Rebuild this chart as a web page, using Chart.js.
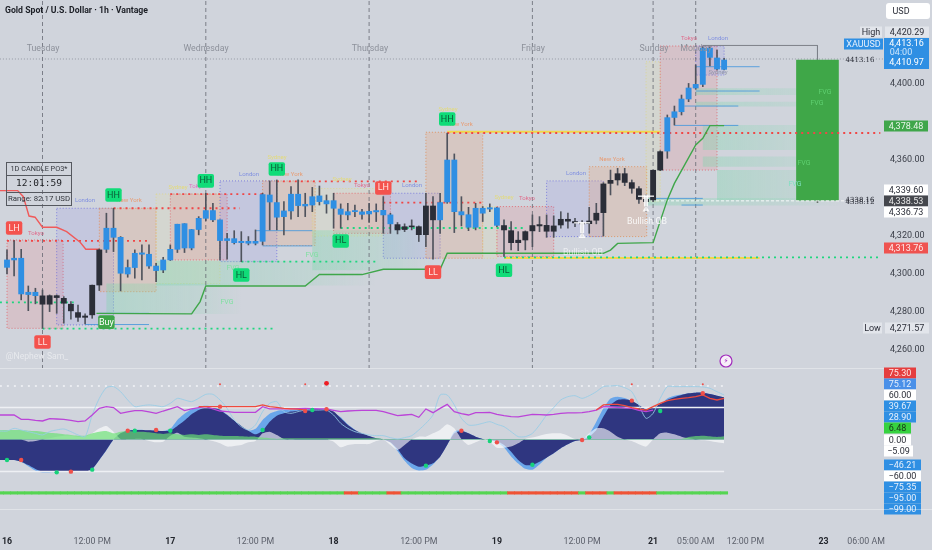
<!DOCTYPE html>
<html>
<head>
<meta charset="utf-8">
<title>Gold Spot / U.S. Dollar</title>
<style>
  html, body { margin: 0; padding: 0; background: #d0d4dc; overflow: hidden; }
  canvas { display: block; }
</style>
<script src="https://cdn.jsdelivr.net/npm/chart.js@4/dist/chart.umd.js"></script>
</head>
<body>
<canvas id="chart" width="932" height="550"></canvas>
<script>
// candles, one entry per hourly bar
const bodyTops = [4307.4,4308.3,4308.3,4290.4,4290.4,4288.5,4288.6,4288.6,4287.2,4284.1,
  4279.7,4277.9,4294.1,4312.7,4324.1,4324.1,4319.3,4303.4,4310.9,4311.1,
  4310.4,4304.2,4307.4,4313.0,4326.2,4326.5,4323.4,4329.3,4333.4,4333.4,
  4328.5,4318.6,4318.6,4317.2,4317.2,4317.2,4341.8,4341.6,4337.6,4333.2,
  4342.0,4342.0,4336.7,4340.7,4341.1,4338.6,4338.6,4334.2,4332.8,4333.4,
  4332.7,4333.0,4333.4,4333.5,4331.1,4326.0,4324.9,4325.3,4324.9,4335.8,
  4335.8,4337.6,4360.0,4360.0,4332.8,4331.2,4334.6,4334.6,4334.9,4334.8,
  4325.5,4322.8,4317.8,4322.3,4325.5,4326.0,4325.6,4325.3,4328.8,4328.8,
  4327.6,4326.9,4327.9,4332.0,4347.4,4349.3,4352.8,4352.8,4348.1,4344.9,
  4339.3,4354.6,4364.4,4382.3,4385.4,4392.1,4397.9,4399.8,4418.9,4418.9,
  4413.7,4412.6];
const bodyBottoms = [4303.5,4307.4,4289.5,4289.2,4288.6,4284.1,4284.1,4287.6,4284.6,4280.6,
  4277.2,4277.2,4278.5,4294.2,4313.0,4319.3,4300.4,4300.0,4303.4,4310.4,
  4304.2,4301.8,4302.1,4307.4,4313.0,4313.7,4313.7,4323.4,4329.3,4328.5,
  4317.6,4317.6,4316.5,4316.5,4316.2,4316.2,4317.2,4337.9,4329.9,4330.2,
  4333.2,4336.0,4335.8,4336.3,4338.1,4336.9,4334.6,4331.4,4331.1,4332.8,
  4331.4,4331.6,4332.7,4331.1,4326.4,4323.2,4323.4,4324.8,4320.7,4320.7,
  4328.5,4328.5,4337.9,4332.8,4331.1,4324.6,4324.6,4332.0,4334.2,4325.6,
  4323.2,4316.5,4316.5,4317.9,4322.7,4325.3,4322.5,4322.5,4325.8,4327.8,
  4326.9,4326.4,4326.5,4328.3,4332.3,4347.7,4349.5,4348.2,4345.1,4339.3,
  4338.1,4339.0,4354.7,4364.7,4382.4,4385.4,4392.1,4397.9,4399.8,4414.0,
  4407.9,4407.7];
const highs = [4312.7,4317.6,4313.0,4293.7,4292.5,4291.6,4289.0,4289.0,4288.1,4285.5,
  4283.7,4279.0,4294.2,4313.2,4332.0,4334.6,4319.7,4307.4,4312.7,4315.3,
  4315.3,4305.6,4308.8,4315.3,4326.2,4326.5,4323.5,4330.2,4342.5,4337.2,
  4328.5,4321.4,4322.8,4322.3,4319.7,4323.2,4342.5,4349.0,4349.5,4338.1,
  4346.0,4349.5,4342.5,4345.6,4346.3,4341.6,4342.5,4336.9,4337.2,4336.3,
  4334.1,4337.2,4336.9,4340.7,4332.0,4327.1,4326.4,4328.5,4325.3,4342.5,
  4340.7,4342.5,4374.1,4363.2,4340.7,4335.1,4337.2,4335.5,4336.9,4335.1,
  4328.5,4327.6,4322.3,4322.7,4331.1,4330.2,4331.1,4330.6,4332.8,4332.0,
  4329.3,4328.1,4335.1,4337.2,4348.1,4354.7,4355.6,4355.6,4349.5,4346.0,
  4341.6,4354.7,4364.9,4383.7,4388.4,4394.2,4400.3,4410.0,4419.6,4419.6,
  4417.9,4413.5];
const lows = [4300.0,4299.0,4286.4,4280.7,4284.3,4271.4,4280.2,4279.3,4274.1,4276.2,
  4275.0,4273.7,4276.7,4291.3,4311.3,4311.8,4291.1,4298.3,4297.8,4296.9,
  4303.0,4296.0,4300.7,4307.1,4311.3,4311.3,4312.7,4320.6,4328.1,4327.6,
  4307.4,4307.8,4315.8,4306.5,4315.3,4315.3,4315.3,4323.2,4323.2,4320.6,
  4328.8,4330.2,4330.2,4332.8,4336.3,4332.0,4324.1,4324.1,4328.5,4330.2,
  4328.8,4327.1,4327.6,4321.4,4321.4,4321.1,4322.3,4323.2,4317.1,4314.4,
  4307.8,4321.4,4337.2,4321.8,4325.3,4322.8,4323.2,4327.6,4332.8,4324.9,
  4309.2,4312.7,4312.3,4312.7,4314.4,4322.3,4319.3,4319.3,4324.1,4324.1,
  4324.9,4319.7,4321.4,4326.4,4320.0,4341.6,4346.8,4346.5,4342.5,4337.2,
  4332.8,4338.1,4354.4,4360.9,4378.4,4383.7,4390.7,4397.2,4398.6,4409.5,
  4407.4,4407.4];
const darkBars = [5,6,7,8,9,10,11,12,13,55,56,57,58,59,60,70,71,72,73,74,75,76,77,78,79,80,
  81,82,83,84,85,86,87,88,89,90,91,92];

// trailing stop lines
const redStopBars = [-1,1.5,2.3,3.1,3.95,5,7,8.4,10.3,11.1,13];
const redStopPrices = [4343.9,4343.9,4340.7,4330.5,4329.9,4324.6,4324.6,4322.3,4316.7,4313,4313];
const greenStopBars = [12.6,26,27.2,28,42,44,50,53,61,62,84,85,86,91,93,94,97,98,99,101];
const greenStopPrices = [4279.3,4279,4285.5,4293.7,4293.7,4299.7,4299.7,4302.5,4302.5,4310.9,
  4310.9,4312.6,4316.1,4316.5,4339,4347.7,4367.9,4371.4,4378.1,4378.1];

// dotted structure levels
const redLevelStarts = [0,15,23,38,53,62];
const redLevelEnds = [20,32.8,36,58,67,123];
const redLevelPrices = [4317.4,4334.6,4342,4348.7,4337.6,4374.2];
const greenLevelStarts = [-1,5,33,47,70];
const greenLevelEnds = [9.4,37.7,52,73,123];
const greenLevelPrices = [4285.1,4271.3,4306.5,4324.2,4308.8];
const yellowLevelStarts = [62,70];
const yellowLevelEnds = [92,106];
const yellowLevelPrices = [4374.9,4308.4];

// short blue order block lines
const blueLineStarts = [13,11,35,36,97,97,95.4,94,90.5,95];
const blueLineEnds = [20,20,43,43,106,106,103,103,98,98];
const blueLinePrices = [4279.3,4273.4,4322.8,4314.8,4409.1,4396.3,4388.4,4378.2,4339.8,4336.3];

// sessions: S sydney, T tokyo, L london, N new york
const sessionKinds = ['T','L','N','S','T','L','N','S','T','L','N','S','T','L','N','S','T','L'];
const sessionStarts = [0,7,13,21,23,30,36,43,46,53,59,67,69,76,82,90,92,97];
const sessionEnds = [7.9,15,21,30,31,38,43.4,53,54,61,67,69,77,84,90.1,92,100,101];
const sessionTops = [4317.9,4334.6,4334.6,4342.1,4342.1,4349,4349,4345,4342.5,4342.5,4374.6,4335.5,
  4335.5,4349,4356.5,4411.7,4420,4420];
const sessionBottoms = [4271.4,4273.2,4290.7,4295,4307.4,4306.5,4315,4320,4321.4,4308.3,4308.3,
  4308.3,4309.2,4319.7,4319.7,4338,4354.7,4404.7];

// fair value gaps, fading to the right
const zoneStarts = [14,21,43,97,97,98,98,100,90];
const zoneEnds = [33,52,60,116,116,116,116,116,118];
const zoneTops = [4295,4307,4323,4397.7,4390.7,4378.4,4361.8,4354.7,4340];
const zoneBottoms = [4279,4294,4302,4394.2,4388.1,4365.3,4356.5,4339,4336];

// projected daily candle on the right
const dailyBar = 114.15;
const dailyOpen = 4338.9;
const dailyClose = 4412.6;
const dailyHigh = 4420.29;
const dailyLow = 4337.6;
const highLineStart = 98;

const dayBreaks = [5,28,51,74,91,97];
const lastPrice = 4413.16;
const whiteLevelPrice = 4338.5;

// structure tags on the candles
const tagTexts = ['LH','LL','Buy','HH','HH','HH','HL','HL','LH','HH','LL','HL'];
const tagBars = [1,5,14,15,28,38,33,47,53,62,60,70];
const tagPrices = [4324.2,4264.2,4274.7,4341.6,4349,4355.3,4299.5,4317.4,4345.3,4381.6,4301,4302];

const priceTicks = [4400,4360,4320,4300,4280,4260];

// lower oscillator pane
const navyValues = [-23,-23,-24.9,-28.7,-33.1,-36.1,-36.1,-36.1,-36.1,-36.1,
  -36.1,-36.1,-33.1,-23,-11.8,0,6.9,9.9,10.7,10.7,
  10.3,9.9,9.5,9.9,15.2,21.2,28.3,33.1,35.8,35.8,
  33.1,27.5,21.2,15.2,9.9,5.8,9.9,20,26.8,29.4,
  31.3,32.4,33.1,34.3,34.3,33.9,31.3,23.8,16.3,10.7,
  6.9,3.9,1.3,0,-3.2,-10.7,-21.2,-27,-30.5,-29.4,
  -26.8,-19.3,-6.2,6.9,9.5,6.9,3.2,0.6,-0.9,-1.7,
  -6.2,-13.7,-23,-28.7,-28.7,-24.9,-20.4,-15.5,-9.9,-5.4,
  -1.7,-0.6,3.2,10.7,25.7,38.8,44.4,45.1,43.6,38.8,
  33.9,35.8,39.9,44.4,47.4,50,51.9,52.6,52.6,51.1,
  49.2,47.4];
const fastValues = [-23,-23,-25,-30,-35,-37,-37,-36.5,-36.1,-36.1,
  -36.1,-36.1,-33,-23,-12,0,7,10,11,11,
  10,10,9.5,12,22,29,34,37,38,37,
  34,28,21,15,10,12,22,29,32,33,
  33,34,34.5,35,34.5,34,30,25,17,11,
  6,4,1.3,0,-3.5,-13,-24,-32,-35,-34,
  -28,-19,-6,9,10,7,3,0.6,-0.9,-3,
  -9,-19,-27,-33,-34,-28,-20.4,-15.5,-9.9,-5.4,
  -1.7,0.5,6,20,35,46,48,46.5,43,38.8,
  33,28,38,46,49,50.5,52,52.6,52.6,51.1,
  49.2,47.4];
const whiteValues = [0,0,0,-2.4,-1.7,0,1.3,3.2,4.3,4.3,
  3.2,3.2,6.9,12.5,15.2,8.8,0.6,0.6,0.6,0.6,
  -1.7,-3.2,-2.4,4.3,7.7,3.2,2.1,1.3,0,-1.7,
  -4.3,-8,-7.3,-6.2,-3.2,-1.7,6.9,8.8,5.1,0.6,
  -0.2,0,0,0,0,0,-2.4,-8.8,-6.2,-5.1,
  -5.1,-5.1,-1.7,0,-6.2,-11.8,-6.2,0,3.2,3.2,
  6.9,10.7,17,12.5,0.6,-6.2,-3.2,0,-2.4,-9.2,
  -9.2,-8,-4.3,0.6,2.1,4.3,6.2,6.9,6.9,4.3,
  0.6,0,6.9,12.5,12.5,8.8,3.2,0,-1.7,-5.4,
  -8,0,6.9,7.7,5.8,3.2,1.3,0,-0.9,-1.7,
  -3.2,-4.3];
const greenValues = [10.7,10.7,10.7,9.9,9.5,8.8,7.7,6.9,5.8,5.1,
  4.3,4.3,6.9,8.8,9.5,6.9,8.8,9.5,8.8,8.8,
  8,6.9,6.2,6.9,5.8,5.1,5.8,5.1,5.8,5.1,
  4.3,3.9,3.9,3.6,3.2,3.2,2.1,1.3,0.6,1.3,
  1.3,1.3,1.3,1.3,1.3,1.3,1.3,1.3,1.3,1.3,
  1.3,1.3,1.3,0.6,0.6,0.6,0.6,0.6,0.6,0.6,
  0.6,0.6,0.6,0.6,0.6,0.6,0.6,0.6,0.6,0.6,
  0.6,0.6,0.6,0.6,0.6,0.6,0.6,0.6,0.6,0.6,
  0.6,0.6,0.6,0.6,0.6,0.6,0.6,0.6,0.6,0.6,
  0.6,0.6,0.6,0.6,0.6,0.6,2.8,3.9,4.3,3.6,
  2.8,3.6];
const cyanValues = [9.5,12.5,10.7,8.8,6.9,5.1,8.8,10.7,11.8,8.8,
  5.1,3.2,27.5,46.2,58.2,59.4,53.7,44.4,36.9,38,
  38.8,38,36.9,40.6,46.2,44.4,42.5,46.2,50.7,50.7,
  44.4,35,21.9,14.4,10.7,16.3,31.3,40.6,42.5,31.3,
  29.4,31.3,33.1,33.1,33.1,33.1,27.5,18.2,12.5,8.8,
  6.9,5.1,4.3,4.3,2.1,0.6,2.1,4.3,10.7,18.2,
  27.5,50,50,38.8,23.8,16.3,16.3,18.2,20,17,
  14.4,8.8,3.2,3.2,6.9,16.3,27.5,35.8,44.4,48.1,
  49.2,46.2,49.2,53.7,59.4,60.1,60.5,58.2,53.7,38.8,
  23.8,29.4,46.2,59.4,59.4,59.4,59.4,59.4,59,57.5,
  53.7,50];
const purpleValues = [27.5,27.5,22.7,22.7,21.5,20.8,23.4,23,22.7,21.5,
  20,20.8,27.5,35,36.9,35.8,29.4,30.9,32.4,32.4,
  30.9,29.4,32,34.3,36.9,32.4,34.3,35.8,36.9,34.3,
  32,31.3,30.5,30.5,30.5,30.5,36.9,34.3,34.3,34.3,
  34.3,34.6,35,34.6,34.3,34.3,32.8,31.3,32,32.4,
  32.8,32.8,32.8,31.3,29,26.8,27.5,28.3,24.9,34.3,
  30.1,35,39.5,31.3,29,27.5,30.1,30.1,30.5,28.3,
  26.8,25.6,25.3,26.8,28.3,27.9,27.5,28.3,29.4,29.8,
  29.8,30.1,31.3,33.1,36.9,36.5,36.1,35.4,35,32.8,
  31.3,33.1];
const redOscBars = [27,28,29,30,31,32,33,34,35,36,37,38,39,40,41,42,null,
  83,84,85,86,87,88,89,90,91,92,93,94,95,96,97,98,99,100,101];
const redOscValues = [36.9,36.9,36.9,36.9,36.9,36.9,36.9,36.9,36.9,38.8,36.9,36,35,34.5,34,33,null,
  33.1,38.8,39.5,39.5,38,35.8,34.3,33.1,36.9,40.6,43.6,45.1,46.2,47,48.1,50,46.2,44.4,46.2];
const redDotBars = [2,9,17,21,30,42,45,64,69,81,88,98];
const redDotValues = [-23,-36.1,9.9,10.7,36.9,32,33.9,9.9,-3.2,-0.6,43.6,51.9];
const greenDotBars = [0,7,12,18,23,36,43,59,68,74,82,92];
const greenDotValues = [-23,-36.9,-33.9,9.9,9.9,10.7,33.1,-29.4,-1.7,-28.3,2.4,32];
const topDotBars = [30,42,88,98];
const topDotValues = [62,62,62,62];
const bigDotBar = 45;
const bigDotValue = 63.1;
const regimeRedBars = [48,49,54,55,71,72,73,74,75,76,77,78,79,80,82,83,84,86,87,88,89,90,91];
const regimeLevel = -60;
const oscLevels = [36,-36];
const oscDotted = 60;

// bottom axis
const timeTicks = [0,12,23,35,46,58,69,81,91,97,104,115,121];
const timeLabels = ['16','12:00 PM','17','12:00 PM','18','12:00 PM','19','12:00 PM','21','05:00 AM','12:00 PM','23','06:00 AM'];

const FONT = 'Roboto, "Liberation Sans", sans-serif';
const BLUE = '#2f8fe3';
const DARK = '#2b2e38';
const PALE = 'rgba(240,243,248,0.55)';
const SESSION_FILL = {
    S: 'rgba(238,232,130,0.13)',
    T: 'rgba(238,105,105,0.17)',
    L: 'rgba(125,125,235,0.15)',
    N: 'rgba(238,150,90,0.20)'
};
const SESSION_LINE = {
    S: 'rgba(225,215,100,0.55)',
    T: 'rgba(225,85,95,0.75)',
    L: 'rgba(95,95,220,0.7)',
    N: 'rgba(225,130,70,0.75)'
};

// text that sits on top of the chart: text, x, y, colour
const sessionNotes = [
    ['Tokyo',36,233,'#e06a8a'],['London',85,200,'#7f8fe0'],['New York',129,200,'#e89a70'],
    ['Sydney',178,187,'#e3da7a'],['Tokyo',197,186,'#e070c0'],['London',249,174,'#7f8fe0'],
    ['New York',290,174,'#e89a70'],['Sydney',277,157,'#e3da7a'],['Sydney',448,109,'#e3da7a'],
    ['New York',460,124,'#e89a70'],['Sydney',342,179,'#e3da7a'],['Tokyo',362,185,'#e06a8a'],
    ['London',412,185,'#7f8fe0'],['Sydney',504,197,'#e3da7a'],['Tokyo',527,198,'#e06a8a'],
    ['London',576,173,'#7f8fe0'],['New York',612,159,'#e89a70'],['Tokyo',689,38,'#e06a8a'],
    ['London',718,38,'#7f8fe0'],['Sydney',718,72,'#8f94a8']
];
const fvgNotes = [
    ['FVG',227,302,'#7fe0a0'],['FVG',233,268,'#7fe0a0'],['FVG',312,255,'#7fe0a0'],['FVG',795,184,'#7fe0c0'],
    ['FVG',825,92,'#5fd070'],['FVG',817,103,'#5fd070'],['FVG',804,163,'#5fd070']
];
const dayNotes = [['Tuesday',43],['Wednesday',206],['Thursday',370],['Friday',533],['Sunday',654],['Monday',696]];

// right hand price tags: text, y, background, text colour, left, width
const priceTags = [
    ['High',32,PALE,'#2b2e38',860,22],
    ['4,420.29',32,PALE,'#2b2e38',885,44],
    ['XAUUSD',44,BLUE,'#e6f0fc',844,39],
    ['4,378.48',126,'#3fa64a','#e8f5e9',884,44],
    ['4,339.60',190,'#ffffff','#2b2e38',884,44],
    ['4,338.53',201,'#45474d','#e8e8e8',884,44],
    ['4,336.73',212,'#ffffff','#2b2e38',884,44],
    ['4,313.76',248,'#ef5350','#ffe9e8',884,44],
    ['Low',328,PALE,'#2b2e38',863,19],
    ['4,271.57',328,PALE,'#2b2e38',885,44],
    ['75.30',373,'#e53e3e','#ffe9e8',884,32],
    ['75.12',384,'#4a90e8','#e6f0fc',884,32],
    ['60.00',395,'#ffffff','#2b2e38',884,32],
    ['39.67',406,BLUE,'#e6f0fc',884,32],
    ['28.90',417,BLUE,'#e6f0fc',884,32],
    ['6.48',428,'#36d23f','#16361a',884,27],
    ['0.00',440,'#ffffff','#2b2e38',884,27],
    ['\u22125.09',451,'#ffffff','#2b2e38',884,29],
    ['\u221246.21',465,BLUE,'#e6f0fc',884,37],
    ['\u221260.00',476,'#ffffff','#2b2e38',884,37],
    ['\u221275.35',487,BLUE,'#e6f0fc',884,37],
    ['\u221295.00',498,BLUE,'#e6f0fc',884,37],
    ['\u221299.00',509,BLUE,'#e6f0fc',884,37]
];

function pairs(xs, ys) {
    return xs.map((x, i) => (x === null ? {x: NaN, y: NaN} : {x: x, y: ys[i]}));
}

// the pane runs a little past the first bar, so hold the first value out to the edge
function seriesPoints(values) {
    return [{x: -1, y: values[0]}].concat(values.map((v, i) => ({x: i, y: v})));
}

function lineSet(points, color, width, dash, axis) {
    return {
        type: 'line', data: points, borderColor: color, borderWidth: width,
        borderDash: dash || [], yAxisID: axis || 'y', pointRadius: 0, fill: false
    };
}

function boxSet(x0, x1, top, bottom, fillColor, edge, dash) {
    return {
        type: 'line',
        data: [{x: x0, y: top}, {x: x1, y: top}, {x: x1, y: bottom}, {x: x0, y: bottom}, {x: x0, y: top}],
        borderColor: edge, borderWidth: edge === 'transparent' ? 0 : 1, borderDash: dash || [],
        backgroundColor: fillColor, fill: 'shape', pointRadius: 0, yAxisID: 'y'
    };
}

function fadeFill(x0, x1) {
    return function (ctx) {
        let scale = ctx.chart.scales.x;
        let from = scale ? scale.getPixelForValue(x0) : NaN;
        let to = scale ? scale.getPixelForValue(x1) : NaN;
        if (!isFinite(from) || !isFinite(to))
            return 'rgba(120,215,170,0.2)';
        let g = ctx.chart.ctx.createLinearGradient(from, 0, to, 0);
        g.addColorStop(0, 'rgba(120,215,170,0.34)');
        g.addColorStop(0.7, 'rgba(120,215,170,0.16)');
        g.addColorStop(1, 'rgba(120,215,170,0)');
        return g;
    };
}

function areaSet(values, color, tension) {
    return {
        type: 'line', data: seriesPoints(values), backgroundColor: color, borderWidth: 0,
        fill: {value: 0}, pointRadius: 0, yAxisID: 'osc', tension: tension
    };
}

function dotSet(points, color, radius, axis) {
    return {
        type: 'line', data: points, showLine: false, pointRadius: radius, pointBorderWidth: 0,
        pointBackgroundColor: color, yAxisID: axis || 'osc'
    };
}

function barSet(points, color, thickness, axis) {
    return {
        type: 'bar', data: points, backgroundColor: color, barThickness: thickness,
        grouped: false, yAxisID: axis || 'y', borderWidth: 0
    };
}

function levelSets(starts, ends, prices, color, dash, width) {
    return prices.map((p, i) => lineSet([{x: starts[i], y: p}, {x: ends[i], y: p}], color, width, dash));
}

function isDayLabel(index) {
    return timeLabels[index] !== undefined && timeLabels[index].length < 3;
}

function buildDatasets() {
    let sets = [];
    sessionKinds.forEach((k, i) => {
        sets.push(boxSet(sessionStarts[i], sessionEnds[i], sessionTops[i], sessionBottoms[i],
            SESSION_FILL[k], SESSION_LINE[k], [1, 2]));
    });
    zoneStarts.forEach((x0, i) => {
        sets.push(boxSet(x0, zoneEnds[i], zoneTops[i], zoneBottoms[i], fadeFill(x0, zoneEnds[i]), 'transparent'));
    });

    dayBreaks.forEach(x => {
        sets.push(lineSet([{x: x, y: 4250}, {x: x, y: 4445}], 'rgba(95,98,108,0.75)', 1, [4, 3]));
    });
    sets.push(lineSet([{x: -1, y: lastPrice}, {x: 123.5, y: lastPrice}], 'rgba(110,115,125,0.6)', 1, [1, 2]));
    sets.push(lineSet([{x: highLineStart, y: dailyHigh}, {x: dailyBar, y: dailyHigh}, {x: dailyBar, y: dailyClose}],
        '#7d8088', 1));

    sets.push(barSet([{x: dailyBar, y: [dailyLow, dailyOpen]}], '#5f6b62', 1));
    sets.push(barSet([{x: dailyBar, y: [dailyOpen, dailyClose]}], '#3fa748', 42));

    sets = sets.concat(levelSets(yellowLevelStarts, yellowLevelEnds, yellowLevelPrices, '#f2d64b', [], 2));
    sets = sets.concat(levelSets(redLevelStarts, redLevelEnds, redLevelPrices, '#f04646', [2, 4], 1.8));
    sets = sets.concat(levelSets(greenLevelStarts, greenLevelEnds, greenLevelPrices, '#1fd67f', [2, 4], 1.8));
    sets = sets.concat(levelSets(blueLineStarts, blueLineEnds, blueLinePrices, 'rgba(70,150,220,0.85)', [], 1));
    sets.push(lineSet([{x: 90, y: whiteLevelPrice}, {x: 121, y: whiteLevelPrice}], 'rgba(255,255,255,0.85)', 1, [3, 2]));

    sets.push(lineSet(pairs(redStopBars, redStopPrices), '#f05a5a', 1.4));
    sets.push(lineSet(pairs(greenStopBars, greenStopPrices), '#3fa64a', 1.4));

    sets.push(barSet(lows.map((l, i) => ({x: i, y: [l, highs[i]]})), '#4f535d', 1));
    sets.push(barSet(bodyBottoms.map((b, i) => ({x: i, y: [b, bodyTops[i]]})),
        bodyTops.map((_, i) => (darkBars.includes(i) ? DARK : BLUE)), 5.2));

    // lower pane
    sets.push(areaSet(fastValues, '#6aa6ea', 0.2));
    sets.push(areaSet(navyValues, '#2f3680', 0.2));
    sets.push(areaSet(whiteValues, 'rgba(255,255,255,0.62)', 0.2));
    sets.push(areaSet(greenValues, 'rgba(105,225,115,0.68)', 0.2));
    [oscDotted].forEach(v => {
        sets.push(lineSet([{x: -1, y: v}, {x: 101.2, y: v}], '#f2f4f7', 1.6, [2, 5], 'osc'));
    });
    oscLevels.forEach(v => {
        sets.push(lineSet([{x: -1, y: v}, {x: 101, y: v}], '#eef0f4', 1.4, [], 'osc'));
    });
    let cyan = lineSet(seriesPoints(cyanValues), 'rgba(150,205,230,0.85)', 1, [], 'osc');
    cyan.tension = 0.25;
    sets.push(cyan);
    sets.push(lineSet(seriesPoints(purpleValues), '#bb44d8', 1.3, [], 'osc'));
    let redOsc = lineSet(pairs(redOscBars, redOscValues), '#ee4a3e', 1.3, [], 'osc');
    redOsc.spanGaps = false;
    sets.push(redOsc);
    sets.push(dotSet(pairs(redDotBars, redDotValues), '#f0504a', 2.2));
    sets.push(dotSet(pairs(greenDotBars, greenDotValues), '#16d27a', 2.2));
    sets.push(dotSet(pairs(topDotBars, topDotValues), '#f0504a', 1));
    sets.push(dotSet([{x: bigDotBar, y: bigDotValue}], '#ee1c24', 2.4));
    let regimeBars = [-1].concat(navyValues.map((_, i) => i));
    sets.push(barSet(regimeBars.map(i => ({x: i, y: [regimeLevel - 1.4, regimeLevel + 1.4]})),
        regimeBars.map(i => (regimeRedBars.includes(i) ? '#ef5335' : '#55d552')), 7.2, 'osc'));

    sets.forEach((d, n) => { d.order = sets.length - n; });
    return sets;
}

function drawLabel(ctx, text, x, y, color, font, align) {
    ctx.font = font;
    ctx.fillStyle = color;
    ctx.textAlign = align || 'center';
    ctx.textBaseline = 'middle';
    ctx.fillText(text, x, y);
}

const overlayPlugin = {
    id: 'overlay',
    afterDraw(chart) {
        const ctx = chart.ctx;
        const xs = chart.scales.x;
        const ys = chart.scales.y;
        ctx.save();

        dayNotes.forEach(n => drawLabel(ctx, n[0], n[1], 49, '#8d919b', '8.8px ' + FONT));
        sessionNotes.forEach(n => drawLabel(ctx, n[0], n[1], n[2], n[3], '6px ' + FONT));
        fvgNotes.forEach(n => drawLabel(ctx, n[0], n[1], n[2], n[3], '7px ' + FONT));

        // white markers on the two bullish order blocks
        [[81, 4320.5], [90, 4334.5]].forEach(p => {
            let px = xs.getPixelForValue(p[0]);
            let py = ys.getPixelForValue(p[1]);
            ctx.fillStyle = 'rgba(255,255,255,0.85)';
            ctx.fillRect(px - 8, py - 13, 16, 1.5);
            ctx.fillRect(px - 2, py - 13, 4, 11);
            ctx.beginPath();
            ctx.moveTo(px, py - 3); ctx.lineTo(px + 3.5, py + 3); ctx.lineTo(px - 3.5, py + 3);
            ctx.fill();
        });
        drawLabel(ctx, 'Bullish OB', 583, 253, 'rgba(255,255,255,0.6)', '8.8px ' + FONT);
        drawLabel(ctx, 'Bullish OB', 647, 222, 'rgba(255,255,255,0.85)', '8.8px ' + FONT);
        drawLabel(ctx, '@Nephew Sam_', 37, 357, 'rgba(255,255,255,0.5)', '8.6px ' + FONT);

        tagTexts.forEach((t, i) => {
            let px = xs.getPixelForValue(tagBars[i]);
            let py = ys.getPixelForValue(tagPrices[i]);
            let bg = t === 'Buy' ? '#3fa64a' : (t === 'LH' || t === 'LL' ? '#f4524d' : '#10dc78');
            ctx.fillStyle = bg;
            ctx.beginPath();
            ctx.roundRect(px - 8.2, py - 6.8, 16.4, 13.6, 2);
            ctx.fill();
            drawLabel(ctx, t, px, py + 0.3, t === 'Buy' ? '#ffffff' : (bg === '#10dc78' ? '#0b5a38' : '#ffe3e0'), '9px ' + FONT);
        });

        // info table
        ctx.strokeStyle = '#55585f';
        ctx.lineWidth = 1;
        ctx.strokeRect(6.5, 162.5, 65, 43);
        ctx.beginPath();
        ctx.moveTo(6.5, 175.5); ctx.lineTo(71.5, 175.5);
        ctx.moveTo(6.5, 192.5); ctx.lineTo(71.5, 192.5);
        ctx.stroke();
        drawLabel(ctx, '1D CANDLE PO3*', 39, 169, '#33363d', '7.3px ' + FONT);
        drawLabel(ctx, '12:01:59', 39, 184, '#202226', '9.5px "DejaVu Sans Mono", monospace');
        drawLabel(ctx, 'Range: 82.17 USD', 39, 199, '#33363d', '7.8px ' + FONT);

        drawLabel(ctx, 'Gold Spot / U.S. Dollar \u00b7 1h \u00b7 Vantage', 5, 10.5, '#1c1f26', 'bold 8.7px ' + FONT, 'left');
        drawLabel(ctx, '4413.16', 860, 60, '#2b2e38', '7px "DejaVu Serif", serif');
        drawLabel(ctx, '4338.16', 860, 200, '#2b2e38', '7px "DejaVu Serif", serif');
        drawLabel(ctx, '4338.12', 860, 202, '#2b2e38', '7px "DejaVu Serif", serif');

        // alert badge
        ctx.beginPath();
        ctx.arc(726, 361, 6, 0, Math.PI * 2);
        ctx.fillStyle = '#f7eef9';
        ctx.fill();
        ctx.strokeStyle = '#a12bbc';
        ctx.lineWidth = 1.2;
        ctx.stroke();
        drawLabel(ctx, '\u26a1', 726, 361, '#a12bbc', '7px "DejaVu Sans", sans-serif');

        // right hand tags
        priceTags.forEach(t => {
            ctx.fillStyle = t[2];
            ctx.fillRect(t[4], t[1] - 5.5, t[5], 11);
            drawLabel(ctx, t[0], t[4] + t[5] / 2, t[1] + 0.3, t[3], '9px ' + FONT);
        });
        ctx.fillStyle = BLUE;
        ctx.fillRect(884, 38, 45, 31);
        drawLabel(ctx, '4,413.16', 906.5, 43.5, '#ffffff', '9px ' + FONT);
        drawLabel(ctx, '04:00', 901, 52.5, '#cfe6fb', '9px ' + FONT);
        drawLabel(ctx, '4,410.97', 906.5, 63, '#ffffff', '9px ' + FONT);

        ctx.fillStyle = '#ffffff';
        ctx.beginPath();
        ctx.roundRect(886, 3, 44, 16, 3);
        ctx.fill();
        drawLabel(ctx, 'USD', 901, 11.5, '#2b2e38', '9px ' + FONT);

        // pane separators
        ctx.fillStyle = 'rgba(255,255,255,0.35)';
        ctx.fillRect(0, 368, 884, 1);
        ctx.fillRect(0, 509, 932, 1);
        ctx.restore();
    }
};

new Chart(document.getElementById('chart'), {
    type: 'line',
    data: {datasets: buildDatasets()},
    plugins: [overlayPlugin],
    options: {
        responsive: false,
        animation: false,
        layout: {padding: 0, autoPadding: false},
        elements: {line: {tension: 0}},
        plugins: {legend: {display: false}, tooltip: {enabled: false}},
        scales: {
            x: {
                type: 'linear', min: -0.986, max: 123.52, offset: false,
                grid: {display: false, drawTicks: false}, border: {display: false},
                afterBuildTicks(scale) {
                    scale.ticks = timeTicks.map(v => ({value: v}));
                },
                afterFit(scale) {
                    scale.height = 40;
                    scale.paddingLeft = 0;
                    scale.paddingRight = 0;
                },
                ticks: {
                    autoSkip: false, maxRotation: 0, padding: 27,
                    color(ctx) { return isDayLabel(ctx.index) ? '#22252c' : '#5b5f6a'; },
                    font(ctx) {
                        return {family: FONT, size: 8.8, weight: isDayLabel(ctx.index) ? 'bold' : 'normal'};
                    },
                    callback(value, index) { return timeLabels[index]; }
                }
            },
            y: {
                type: 'linear', position: 'right', stack: 'panes', stackWeight: 368,
                min: 4250.53, max: 4444.21,
                grid: {display: false, drawTicks: false}, border: {display: false},
                afterBuildTicks(scale) {
                    scale.ticks = priceTicks.map(v => ({value: v}));
                },
                afterFit(scale) {
                    scale.width = 48;
                    scale.paddingTop = 0;
                    scale.paddingBottom = 0;
                },
                ticks: {
                    padding: 6, color: '#3a3e48', font: {family: FONT, size: 9},
                    callback(value) { return value.toLocaleString('en-US', {minimumFractionDigits: 2}); }
                }
            },
            osc: {
                axis: 'y', type: 'linear', position: 'right', stack: 'panes', stackWeight: 142,
                min: -79.2, max: 80.3,
                grid: {display: false, drawTicks: false}, border: {display: false},
                ticks: {display: false},
                afterFit(scale) {
                    scale.width = 48;
                    scale.paddingTop = 0;
                    scale.paddingBottom = 0;
                }
            }
        }
    }
});
</script>
</body>
</html>
